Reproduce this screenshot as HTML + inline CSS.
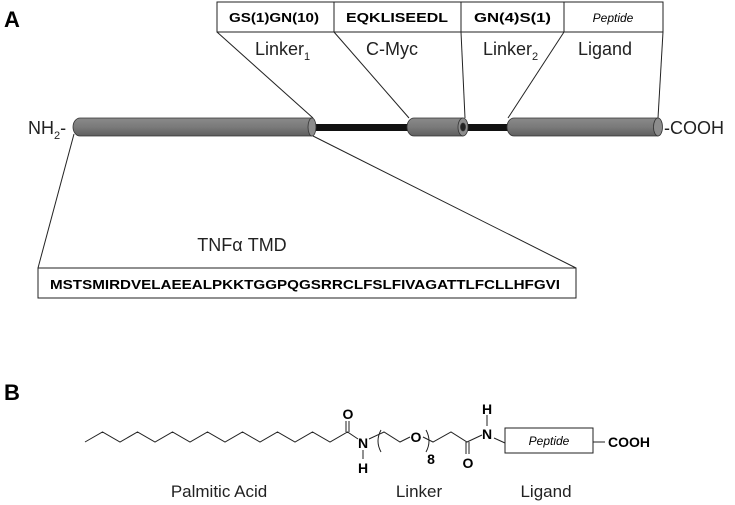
<!DOCTYPE html>
<html><head><meta charset="utf-8"><style>
html,body{margin:0;padding:0;background:#fff;}
svg{display:block;font-family:"Liberation Sans",Arial,sans-serif;}
</style></head><body>
<svg width="735" height="505" viewBox="0 0 735 505" xmlns="http://www.w3.org/2000/svg">
<defs>
<linearGradient id="cyl" x1="0" y1="0" x2="0" y2="1">
<stop offset="0" stop-color="#8a8a8a"/><stop offset="0.5" stop-color="#7a7a7a"/><stop offset="1" stop-color="#5e5e5e"/>
</linearGradient>
</defs>
<text x="4" y="27" font-size="22" font-weight="bold">A</text>
<text x="4" y="400" font-size="22" font-weight="bold">B</text>

<g stroke="#222" stroke-width="1" fill="#fff">
<rect x="217" y="2" width="446" height="30"/>
<line x1="334" y1="2" x2="334" y2="32"/>
<line x1="461" y1="2" x2="461" y2="32"/>
<line x1="564" y1="2" x2="564" y2="32"/>
</g>
<g font-size="13" font-weight="bold">
<text x="229" y="22" textLength="90" lengthAdjust="spacingAndGlyphs">GS(1)GN(10)</text>
<text x="346" y="22" textLength="102" lengthAdjust="spacingAndGlyphs">EQKLISEEDL</text>
<text x="474" y="22" textLength="77" lengthAdjust="spacingAndGlyphs">GN(4)S(1)</text>
</g>
<text x="613" y="22" font-size="12" font-style="italic" text-anchor="middle">Peptide</text>

<g font-size="18" fill="#222">
<text x="255" y="55">Linker<tspan font-size="11" dy="5">1</tspan></text>
<text x="366" y="55">C-Myc</text>
<text x="483" y="55">Linker<tspan font-size="11" dy="5">2</tspan></text>
<text x="578" y="55">Ligand</text>
</g>

<g stroke="#222" stroke-width="1" fill="none">
<line x1="217" y1="32" x2="313" y2="118"/>
<line x1="334" y1="32" x2="409" y2="118"/>
<line x1="461" y1="32" x2="465" y2="118"/>
<line x1="564" y1="32" x2="508" y2="118"/>
<line x1="663" y1="32" x2="658" y2="118"/>
<line x1="74" y1="134" x2="38" y2="268"/>
<line x1="313" y1="136" x2="576" y2="268"/>
</g>

<rect x="312" y="124" width="98" height="7" fill="#111"/>
<rect x="463" y="124" width="46" height="7" fill="#111"/>
<g stroke="#333" stroke-width="0.8">
<path d="M80 118 H312 V136 H80 A7 9 0 0 1 80 118 Z" fill="url(#cyl)"/>
<ellipse cx="312" cy="127" rx="4" ry="9" fill="#8c8c8c"/>
<path d="M414 118 H463 V136 H414 A7 9 0 0 1 414 118 Z" fill="url(#cyl)"/>
<ellipse cx="463" cy="127" rx="5" ry="9" fill="#8c8c8c"/>
<ellipse cx="463" cy="127" rx="2.5" ry="4" fill="#222"/>
<path d="M514 118 H658 V136 H514 A7 9 0 0 1 514 118 Z" fill="url(#cyl)"/>
<ellipse cx="658" cy="127" rx="4.5" ry="9" fill="#8c8c8c"/>
</g>
<text x="28" y="134" font-size="18" fill="#222">NH<tspan font-size="11" dy="5">2</tspan><tspan dy="-5">-</tspan></text>
<text x="664" y="134" font-size="18" fill="#222">-COOH</text>

<text x="242" y="251" font-size="18" text-anchor="middle" fill="#222">TNFα TMD</text>
<rect x="38" y="268" width="538" height="30" fill="#fff" stroke="#222"/>
<text x="50" y="289" font-size="13" font-weight="bold" textLength="510" lengthAdjust="spacingAndGlyphs">MSTSMIRDVELAEEALPKKTGGPQGSRRCLFSLFIVAGATTLFCLLHFGVI</text>

<g stroke="#222" stroke-width="1" fill="none">
<polyline points="85,442 102.5,432 120,442 137.5,432 155,442 172.5,432 190,442 207.5,432 225,442 242.5,432 260,442 277.5,432 295,442 312.5,432 330,442 347.5,432 358,439"/>
<line x1="346" y1="421" x2="346" y2="432"/>
<line x1="349" y1="421" x2="349" y2="432"/>
<line x1="363" y1="450" x2="363" y2="459"/>
<path d="M381 430 Q375 441 381 452"/>
<polyline points="369,439 384,432 400,442 410,437"/>
<path d="M426 430 Q432 441 426 452"/>
<polyline points="423,437 433,442 451,432 467,442 482,435"/>
<line x1="466" y1="442" x2="466" y2="454"/>
<line x1="469" y1="442" x2="469" y2="454"/>
<line x1="487" y1="415" x2="487" y2="426"/>
<line x1="494" y1="438" x2="505" y2="443"/>
<rect x="505" y="428" width="88" height="25"/>
<line x1="593" y1="442" x2="605" y2="442"/>
</g>
<g font-size="14" font-weight="bold" text-anchor="middle">
<text x="348" y="419">O</text>
<text x="363" y="448">N</text>
<text x="363" y="473">H</text>
<text x="416" y="442">O</text>
<text x="431" y="464">8</text>
<text x="468" y="468">O</text>
<text x="487" y="439">N</text>
<text x="487" y="414">H</text>
<text x="629" y="447">COOH</text>
</g>
<text x="549" y="445" font-size="12" font-style="italic" text-anchor="middle">Peptide</text>
<g font-size="17" fill="#222" text-anchor="middle">
<text x="219" y="497">Palmitic Acid</text>
<text x="419" y="497">Linker</text>
<text x="546" y="497">Ligand</text>
</g>
</svg>
</body></html>
